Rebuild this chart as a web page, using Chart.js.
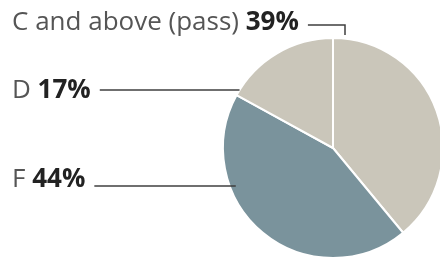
<!DOCTYPE html>
<html>
<head>
<meta charset="utf-8">
<script src="https://cdn.jsdelivr.net/npm/chart.js@4/dist/chart.umd.min.js"></script>
<style>
  html, body { margin: 0; padding: 0; background: #fff; overflow: hidden; }
  #wrap { position: relative; width: 444px; height: 259px; }
</style>
</head>
<body>
<div id="wrap"><canvas id="my-chart"></canvas></div>
<script>
'use strict';

// Grade shares, clockwise from the top
let gradeNames = ['C and above (pass)', 'F', 'D'];
let gradeShares = [39, 44, 17];
let sliceColors = ['#cac6ba', '#7a939c', '#cac6ba'];

// label baselines and leader line heights
let labelY = [30, 187, 98];
let lineY = [25, 186, 90];

let ctx = document.getElementById('my-chart');

// draws the labels with their leader lines
let labelPlugin = {
  id: 'pieLabels',
  afterDraw(chart) {
    let c = chart.ctx;
    let arcs = chart.getDatasetMeta(0).data;
    let cx = arcs[0].x;
    let cy = arcs[0].y;
    let r = arcs[0].outerRadius;
    c.save();
    c.textBaseline = 'alphabetic';
    c.strokeStyle = '#3f3f3f';
    c.lineWidth = 1.5;
    for (let i = 0; i < gradeNames.length; i++) {
      let name = gradeNames[i] + ' ';
      let pct = gradeShares[i] + '%';
      c.font = '26px "Open Sans", sans-serif';
      c.fillStyle = '#555';
      c.fillText(name, 12, labelY[i]);
      let w = c.measureText(name).width;
      c.font = 'bold 26px "Open Sans", sans-serif';
      c.fillStyle = '#222';
      c.fillText(pct, 12 + w, labelY[i]);
      let endText = 12 + w + c.measureText(pct).width + 9;
      let ly = lineY[i];
      c.beginPath();
      if (i === 0) {
        // elbow down to the top of the pie
        let ex = cx + 12;
        c.moveTo(endText, ly);
        c.lineTo(ex, ly);
        c.lineTo(ex, cy - r - 3);
      } else {
        let dy = ly - cy;
        let ex = cx - Math.sqrt(r * r - dy * dy) + (i === 1 ? 6 : 0);
        c.moveTo(endText, ly);
        c.lineTo(ex, ly);
      }
      c.stroke();
    }
    c.restore();
  }
};

let chartObject = {
  type: 'pie',
  data: {
    labels: gradeNames,
    datasets: [{
      data: gradeShares,
      backgroundColor: sliceColors,
      borderColor: '#fff',
      borderWidth: 2,
      hoverOffset: 0
    }]
  },
  options: {
    responsive: true,
    maintainAspectRatio: false,
    animation: false,
    events: [],
    layout: {
      padding: { left: 222, top: 37, right: 0, bottom: 0 }
    },
    plugins: {
      legend: { display: false },
      tooltip: { enabled: false }
    }
  },
  plugins: [labelPlugin]
};

const gradeChart = new Chart(ctx, chartObject);
</script>
</body>
</html>
